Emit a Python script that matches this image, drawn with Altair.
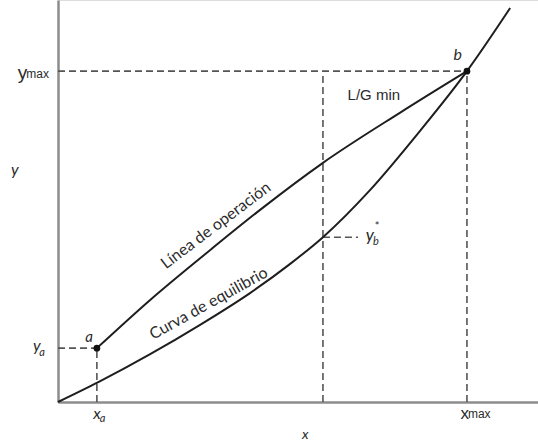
import altair as alt
import pandas as pd

# ---- data (abstract units 0..100) ----
eq_x = [0, 8.5, 19.2, 29.6, 40.0, 48.3, 55.2, 65.0, 75.4, 85.2, 94.2]
eq_y = [0, 5.0, 11.9, 19.2, 27.1, 34.3, 41.0, 52.7, 67.4, 82.3, 98.0]
op_x = [8.1, 19.2, 32.1, 42.1, 55.2, 71.3, 85.2]
op_y = [13.4, 25.4, 38.2, 47.8, 59.5, 72.0, 82.3]
x_a, y_a = 8.1, 13.4
x_max, y_max = 85.2, 82.3
x_b = 55.2
y_b_star = 41.0
yb_leader_end = 62.5

pt_names = ["a", "b"]
pt_x = [x_a, x_max]
pt_y = [y_a, y_max]

seg_x = [0, x_max, x_b, 0, x_a, x_b]
seg_x2 = [x_max, x_max, x_b, x_a, x_a, yb_leader_end]
seg_y = [y_max, 0, 0, y_a, 0, y_b_star]
seg_y2 = [y_max, y_max, y_max, y_a, y_a, y_b_star]

FONT = "Lato"
INK = "#2b2b2b"

xs = alt.Scale(domain=[0, 100], nice=False, zero=False)
ys = alt.Scale(domain=[0, 100], nice=False, zero=False)

eq_df = pd.DataFrame({"x": eq_x, "y": eq_y, "i": range(len(eq_x))})
op_df = pd.DataFrame({"x": op_x, "y": op_y, "i": range(len(op_x))})
pt_df = pd.DataFrame({"name": pt_names, "x": pt_x, "y": pt_y})
seg_df = pd.DataFrame({"x": seg_x, "x2": seg_x2, "y": seg_y, "y2": seg_y2})

axes_layer = alt.Chart(pd.DataFrame({"x": [0], "y": [0]})).mark_point(opacity=0).encode(
    x=alt.X("x:Q", scale=xs, axis=alt.Axis(domainColor="#8c8c8c", domainWidth=2.5, ticks=False,
                                            labels=False, grid=False, title=None)),
    y=alt.Y("y:Q", scale=ys, axis=alt.Axis(domainColor="#8c8c8c", domainWidth=2.5, ticks=False,
                                            labels=False, grid=False, title=None)),
)

dashes = alt.Chart(seg_df).mark_rule(color="#555555", strokeWidth=1.6, strokeDash=[7, 4]).encode(
    x=alt.X("x:Q", scale=xs), x2="x2:Q", y=alt.Y("y:Q", scale=ys), y2="y2:Q"
)

eq_line = alt.Chart(eq_df).mark_line(color="#1e1e1e", strokeWidth=2, interpolate="monotone").encode(
    x=alt.X("x:Q", scale=xs), y=alt.Y("y:Q", scale=ys), order="i:Q"
)
op_line = alt.Chart(op_df).mark_line(color="#1e1e1e", strokeWidth=2, interpolate="monotone").encode(
    x=alt.X("x:Q", scale=xs), y=alt.Y("y:Q", scale=ys), order="i:Q"
)
points = alt.Chart(pt_df).mark_circle(color="#111111", size=45, opacity=1).encode(
    x=alt.X("x:Q", scale=xs), y=alt.Y("y:Q", scale=ys)
)


def label(text, x, y, size, italic=False, align="center", angle=0, font=FONT):
    props = dict(font=font, fontSize=size, color=INK, align=align, baseline="middle")
    if italic:
        props["fontStyle"] = "italic"
    if angle:
        props["angle"] = angle
    return alt.Chart(pd.DataFrame({"x": [x], "y": [y], "t": [text]})).mark_text(**props).encode(
        x=alt.X("x:Q", scale=xs), y=alt.Y("y:Q", scale=ys), text="t:N"
    )


texts = [
    # y_max
    label("y", -6.4, 81.9, 19, align="right", font="Liberation Sans"),
    label("max", -6.6, 81.5, 12, align="left", font="Liberation Sans"),
    # x_max
    label("x", 85.6, -2.9, 17, align="right", font="Liberation Sans"),
    label("max", 85.4, -3.1, 12, align="left", font="Liberation Sans"),
    # y_a
    label("y", -3.6, 13.9, 16, italic=True, align="right"),
    label("a", -3.9, 12.2, 11, italic=True, align="left"),
    # x_a
    label("x", 8.9, -2.9, 16, italic=True, align="right"),
    label("a", 8.7, -4.3, 11, italic=True, align="left"),
    # point labels
    label("a", 6.5, 16.2, 15, italic=True),
    label("b", 83.3, 86.4, 16, italic=True),
    # L/G min
    label("L/G min", 65.8, 76.4, 15, font="Liberation Sans"),
    # y_b*
    label("y", 65.8, 41.4, 17, italic=True, align="right"),
    label("b", 65.6, 39.8, 11, italic=True, align="left"),
    label("*", 66.0, 43.6, 11, align="left"),
    # axis letters
    label("x", 51.5, -8.3, 14, italic=True),
    label("y", -9.0, 57.6, 16, italic=True),
    # curve names
    label("Línea de operación", 32.9, 43.9, 16, angle=323),
    label("Curva de equilibrio", 31.4, 24.5, 16, angle=331),
]

chart = alt.layer(axes_layer, dashes, eq_line, op_line, points, *texts).properties(
    width=480, height=402,
    autosize=alt.AutoSizeParams(type="none"),
    padding={"left": 58, "top": 0, "right": 0, "bottom": 42},
).configure_view(stroke=None).configure(background="white")

chart.save("out.html", embed_options={"renderer": "svg", "actions": False})
